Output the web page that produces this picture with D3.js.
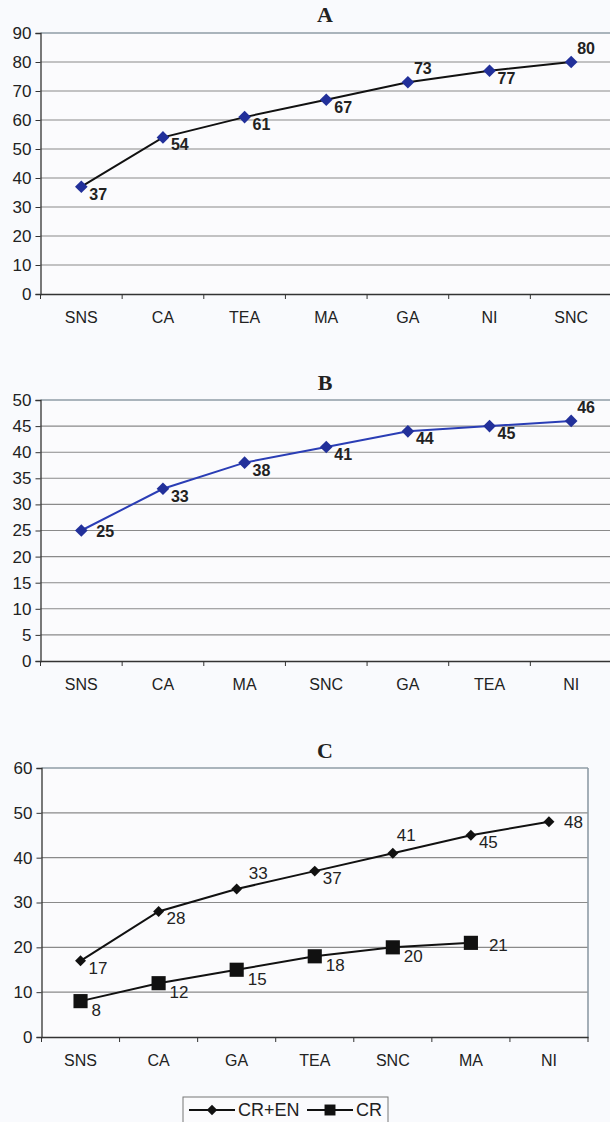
<!DOCTYPE html>
<html>
<head>
<meta charset="utf-8">
<script src="https://cdn.jsdelivr.net/npm/d3@7"></script>
<style>
  body { margin: 0; background: #f9fafd; }
  svg { display: block; font-family: "Liberation Sans", Arial, sans-serif; }
</style>
</head>
<body>
<div id="chart"></div>
<script>
// panel A
const catsA = ["SNS", "CA", "TEA", "MA", "GA", "NI", "SNC"];
const valsA = [37, 54, 61, 67, 73, 77, 80];
const ticksA = [0, 10, 20, 30, 40, 50, 60, 70, 80, 90];

// panel B
const catsB = ["SNS", "CA", "MA", "SNC", "GA", "TEA", "NI"];
const valsB = [25, 33, 38, 41, 44, 45, 46];
const ticksB = [0, 5, 10, 15, 20, 25, 30, 35, 40, 45, 50];

// panel C
const catsC = ["SNS", "CA", "GA", "TEA", "SNC", "MA", "NI"];
const valsCREN = [17, 28, 33, 37, 41, 45, 48];
const valsCR = [8, 12, 15, 18, 20, 21];
const ticksC = [0, 10, 20, 30, 40, 50, 60];
const seriesNames = ["CR+EN", "CR"];

// where each value label sits next to its marker
const placeA = ["br", "br", "br", "br", "tr", "br", "tr"];
const placeB = ["r", "br", "br", "br", "br", "br", "tr"];
const placeCREN = ["br", "br", "t", "br", "ta", "br", "r"];
const placeCR = ["br", "br", "br", "br", "br", "r"];

const W = 610, H = 1122;
const svg = d3.select("#chart").append("svg")
    .attr("width", W)
    .attr("height", H)
    .attr("viewBox", "0 0 " + W + " " + H);

const offsets = {
    br: [8, 13],
    tr: [6, -8],
    r: [15, 6],
    t: [12, -10],
    ta: [4, -12]
};

function drawPanel(p) {
    const g = svg.append("g");
    const x = d3.scaleBand().domain(p.cats).range(p.xRange);
    const y = d3.scaleLinear().domain([0, d3.max(p.ticks)]).range(p.yRange);
    const x0 = p.xRange[0], x1 = p.xRange[1];

    g.append("rect")
        .attr("x", x0).attr("y", y(d3.max(p.ticks)))
        .attr("width", x1 - x0).attr("height", y(0) - y(d3.max(p.ticks)))
        .attr("fill", "#fbfbfd");

    // title
    g.append("text")
        .attr("x", 325).attr("y", p.titleY)
        .attr("text-anchor", "middle")
        .style("font-family", "'Liberation Serif', 'Times New Roman', serif")
        .style("font-weight", "bold")
        .style("font-size", "22px")
        .attr("fill", "#222")
        .text(p.title);

    // grid
    g.selectAll(".grid").data(p.ticks.filter(t => t > 0)).enter()
        .append("line")
        .attr("x1", x0).attr("x2", x1)
        .attr("y1", d => y(d)).attr("y2", d => y(d))
        .attr("stroke", (d, i, n) => i === n.length - 1 ? "#8f9ca6" : "#8a8a8a")
        .attr("stroke-width", (d, i, n) => i === n.length - 1 ? 1.6 : 1.1);

    if (p.rightBorder) {
        g.append("line")
            .attr("x1", x1).attr("x2", x1)
            .attr("y1", y(d3.max(p.ticks))).attr("y2", y(0))
            .attr("stroke", "#8f9ca6").attr("stroke-width", 1.6);
    }

    // y axis
    const yAxis = g.append("g")
        .attr("transform", "translate(" + x0 + ",0)")
        .call(d3.axisLeft(y).tickValues(p.ticks).tickSize(5).tickPadding(4).tickFormat(d3.format("d")));
    yAxis.select(".domain").attr("stroke", "#333").attr("stroke-width", 1.3);
    yAxis.selectAll(".tick line").attr("stroke", "#333");
    yAxis.selectAll(".tick text").style("font-size", "17px").attr("fill", "#222");

    // x axis
    const xAxis = g.append("g")
        .attr("transform", "translate(0," + y(0) + ")")
        .call(d3.axisBottom(x).tickSize(0).tickPadding(18));
    xAxis.select(".domain").attr("stroke", "#333").attr("stroke-width", 1.3);
    xAxis.selectAll(".tick text").style("font-size", "16px").attr("fill", "#222");
    const bounds = p.cats.map(c => x(c)).concat([x1]);
    xAxis.selectAll(".bound").data(bounds).enter()
        .append("line")
        .attr("x1", d => d).attr("x2", d => d)
        .attr("y1", 0).attr("y2", 5)
        .attr("stroke", "#333");

    p.series.forEach(s => {
        const pts = s.vals.map((v, i) => [x(p.cats[i]) + x.bandwidth() / 2, y(v)]);
        g.append("path")
            .attr("d", d3.line()(pts))
            .attr("fill", "none")
            .attr("stroke", s.lineColor)
            .attr("stroke-width", 2);
        const sym = d3.symbol().type(d3.symbolSquare).size(s.size);
        g.selectAll(null).data(pts).enter()
            .append("path")
            .attr("d", sym)
            .attr("transform", d => "translate(" + d[0] + "," + d[1] + ")" + (s.diamond ? " rotate(45)" : ""))
            .attr("fill", s.markColor);
        g.selectAll(null).data(pts).enter()
            .append("text")
            .attr("x", (d, i) => d[0] + offsets[s.place[i]][0] + (s.extraX || 0))
            .attr("y", (d, i) => d[1] + offsets[s.place[i]][1] + (s.extraY || 0))
            .style("font-size", s.labelSize)
            .style("font-weight", s.labelWeight)
            .attr("fill", "#222")
            .text((d, i) => s.vals[i]);
    });
}

drawPanel({
    title: "A", titleY: 22,
    cats: catsA, ticks: ticksA,
    xRange: [40.5, 612], yRange: [294, 33],
    series: [{ vals: valsA, place: placeA, lineColor: "#111", markColor: "#22309a", diamond: true, size: 80, labelSize: "16px", labelWeight: "bold" }]
});

drawPanel({
    title: "B", titleY: 390,
    cats: catsB, ticks: ticksB,
    xRange: [40.5, 612], yRange: [661, 400],
    series: [{ vals: valsB, place: placeB, lineColor: "#2a3db5", markColor: "#22309a", diamond: true, size: 80, labelSize: "16px", labelWeight: "bold" }]
});

drawPanel({
    title: "C", titleY: 758,
    cats: catsC, ticks: ticksC, rightBorder: true,
    xRange: [41.5, 588], yRange: [1037, 768],
    series: [
        { vals: valsCREN, place: placeCREN, lineColor: "#111", markColor: "#111", diamond: true, size: 60, labelSize: "17px", labelWeight: "normal" },
        { vals: valsCR, place: placeCR, lineColor: "#111", markColor: "#111", diamond: false, size: 200, labelSize: "17px", labelWeight: "normal", extraX: 3, extraY: 2 }
    ]
});

// legend
const leg = svg.append("g").attr("transform", "translate(183,1097)");
leg.append("rect").attr("width", 205).attr("height", 30)
    .attr("fill", "#fbfbfd").attr("stroke", "#777").attr("stroke-width", 1);
const legItems = [
    { name: seriesNames[0], x: 6, sq: false },
    { name: seriesNames[1], x: 124, sq: true }
];
legItems.forEach(it => {
    leg.append("line").attr("x1", it.x).attr("x2", it.x + 46).attr("y1", 13).attr("y2", 13)
        .attr("stroke", "#111").attr("stroke-width", 2);
    leg.append("path")
        .attr("d", d3.symbol().type(d3.symbolSquare).size(it.sq ? 120 : 55))
        .attr("transform", "translate(" + (it.x + 23) + ",13)" + (it.sq ? "" : " rotate(45)"))
        .attr("fill", "#111");
    leg.append("text").attr("x", it.x + 49).attr("y", 19)
        .style("font-size", "18px").attr("fill", "#222").text(it.name);
});
</script>
</body>
</html>
